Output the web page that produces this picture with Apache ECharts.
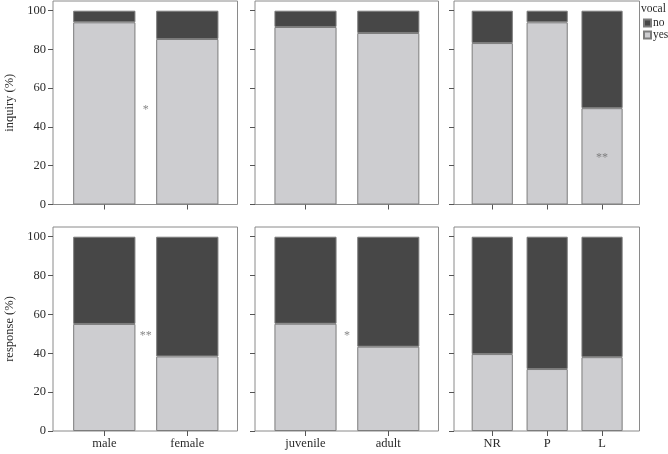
<!DOCTYPE html>
<html>
<head>
<meta charset="utf-8">
<script src="https://cdn.jsdelivr.net/npm/echarts@6/dist/echarts.min.js"></script>
<style>
  html, body { margin: 0; padding: 0; background: #fff; }
  #chart { width: 668px; height: 454px; }
</style>
</head>
<body>
<div id="chart"></div>
<script>
  // categories of the three panel columns
  const sexCats = ['male', 'female']
  const ageCats = ['juvenile', 'adult']
  const groupCats = ['NR', 'P', 'L']
  const panelCats = [sexCats, ageCats, groupCats]

  // inquiry (%) — top row
  const inquiryYes = [[94.0, 85.4], [91.6, 88.5], [83.3, 94.0, 49.7]]
  const inquiryNo = [[6.0, 14.6], [8.4, 11.5], [16.7, 6.0, 50.3]]
  // response (%) — bottom row
  const responseYes = [[55.1, 38.4], [55.2, 43.4], [39.6, 31.9, 38.0]]
  const responseNo = [[44.9, 61.6], [44.8, 56.6], [60.4, 68.1, 62.0]]

  const rowNames = ['inquiry (%)', 'response (%)']
  const yTicks = [0, 20, 40, 60, 80, 100]

  // significance marks: panel = row * 3 + col, x in category units
  const starPanels = [0, 3, 4, 2]
  const starX = [0.5, 0.5, 0.5, 2]
  const starY = [50, 50, 50, 25]
  const starText = ['*', '**', '*', '**']

  // layout (pixels)
  const colBox = [[53, 237.5], [255, 438.5], [454, 639.5]]
  const colInner = [[62.8, 228.8], [264.1, 429.7], [464.8, 629.5]]
  const rowBox = [[1, 204.5], [227, 431]]

  const font = 'Liberation Serif'
  const textColor = '#2b2b2b'
  const lineColor = '#8a8a8a'

  const chart = echarts.init(document.getElementById('chart'))

  const grid = []
  const xAxis = []
  const yAxis = []
  const series = []
  const yesRows = [inquiryYes, responseYes]
  const noRows = [inquiryNo, responseNo]
  const annoAxis = {}

  for (let r = 0; r < 2; r++) {
    for (let c = 0; c < 3; c++) {
      const p = r * 3 + c
      const top = rowBox[r][0]
      const height = rowBox[r][1] - rowBox[r][0]
      // box grid, carries the y axis
      grid.push({
        left: colBox[c][0], top: top,
        width: colBox[c][1] - colBox[c][0], height: height,
        show: true, borderColor: lineColor, borderWidth: 1,
        backgroundColor: 'transparent'
      })
      const boxIdx = grid.length - 1
      xAxis.push({ gridIndex: boxIdx, type: 'value', min: 0, max: 1, show: false })
      yAxis.push({
        gridIndex: boxIdx, type: 'value', min: 0, max: 105,
        name: c === 0 ? rowNames[r] : '',
        nameLocation: 'middle', nameGap: 37,
        nameTextStyle: { fontFamily: font, fontSize: 12.5, color: textColor },
        axisLine: { show: false },
        splitLine: { show: false },
        axisTick: { show: true, length: 5, customValues: yTicks, lineStyle: { color: '#555' } },
        axisLabel: {
          show: c === 0, customValues: yTicks, margin: 7,
          fontFamily: font, fontSize: 12.5, color: textColor
        }
      })

      // inner grid, carries the bars
      grid.push({
        left: colInner[c][0], top: top,
        width: colInner[c][1] - colInner[c][0], height: height
      })
      const innerIdx = grid.length - 1
      xAxis.push({
        gridIndex: innerIdx, type: 'category', data: panelCats[c],
        axisLine: { show: false },
        axisTick: { show: true, alignWithLabel: true, length: 5, lineStyle: { color: '#555' } },
        axisLabel: {
          show: r === 1, margin: 6, interval: 0,
          fontFamily: font, fontSize: 12.5, color: textColor
        }
      })
      const catX = xAxis.length - 1
      yAxis.push({ gridIndex: innerIdx, type: 'value', min: 0, max: 105, show: false })
      const innerY = yAxis.length - 1
      xAxis.push({
        gridIndex: innerIdx, type: 'value', show: false,
        min: -0.5, max: panelCats[c].length - 0.5
      })
      annoAxis[p] = { x: xAxis.length - 1, y: innerY }

      series.push({
        name: 'yes', type: 'bar', stack: 'p' + p,
        xAxisIndex: catX, yAxisIndex: innerY,
        barWidth: '75%',
        itemStyle: { color: '#cdcdd0', borderColor: '#7c7c7c', borderWidth: 1 },
        data: yesRows[r][c]
      })
      series.push({
        name: 'no', type: 'bar', stack: 'p' + p,
        xAxisIndex: catX, yAxisIndex: innerY,
        barWidth: '75%',
        itemStyle: { color: '#474747', borderColor: '#7c7c7c', borderWidth: 1 },
        data: noRows[r][c]
      })
    }
  }

  starPanels.forEach((p, i) => {
    series.push({
      type: 'scatter',
      xAxisIndex: annoAxis[p].x, yAxisIndex: annoAxis[p].y,
      symbolSize: 1,
      itemStyle: { color: 'rgba(0,0,0,0)' },
      silent: true,
      z: 5,
      label: {
        show: true, position: 'inside', formatter: starText[i],
        fontFamily: font, fontSize: 12, color: '#6a6a6a', offset: [0, 2]
      },
      data: [[starX[i], starY[i]]]
    })
  })

  chart.setOption({
    animation: false,
    title: {
      text: 'vocal', left: 641, top: 3, padding: 0,
      textStyle: { fontFamily: font, fontSize: 11.5, fontWeight: 'normal', color: textColor }
    },
    legend: {
      data: ['no', 'yes'],
      orient: 'vertical', left: 643, top: 17, padding: 0,
      itemWidth: 7, itemHeight: 7, itemGap: 0,
      icon: 'rect',
      textStyle: { fontFamily: font, fontSize: 11.5, color: textColor, lineHeight: 10, padding: [0, 0, 0, -3] }
    },
    grid: grid,
    xAxis: xAxis,
    yAxis: yAxis,
    series: series
  })
</script>
</body>
</html>
